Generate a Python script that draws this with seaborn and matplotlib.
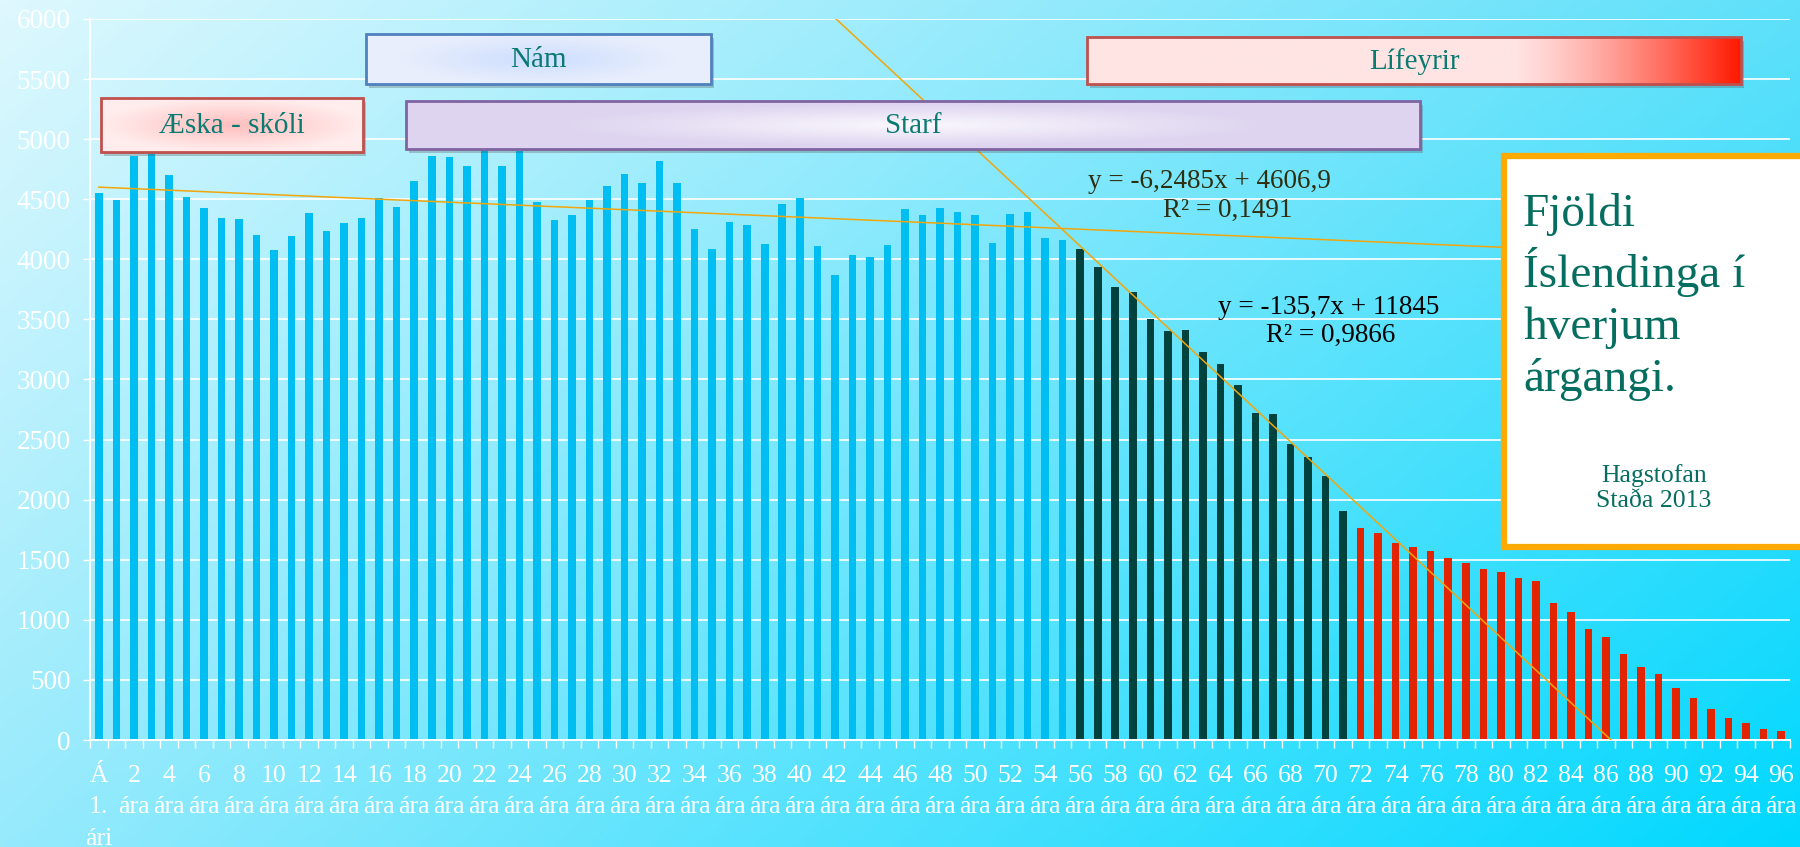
import numpy as np
import pandas as pd
import seaborn as sns
import matplotlib.pyplot as plt
from matplotlib.patches import Rectangle

# Fjöldi Íslendinga eftir aldri (Hagstofan, staða 2013)
ages = list(range(97))
counts = [4550, 4495, 4863, 4885, 4704, 4520, 4430, 4346, 4332, 4206, 4076, 4191, 4386, 4234, 4303, 4346,
          4513, 4433, 4654, 4863, 4849, 4780, 4914, 4780, 4899, 4480, 4325, 4372, 4495, 4614, 4711, 4632,
          4820, 4632, 4256, 4090, 4314, 4285, 4130, 4459, 4509, 4108, 3870, 4036, 4021, 4123, 4422, 4372,
          4430, 4397, 4368, 4133, 4379, 4397, 4177, 4159, 4090, 3935, 3768, 3725, 3505, 3404, 3411, 3230,
          3132, 2955, 2724, 2710, 2460, 2356, 2200, 1904, 1767, 1723, 1637, 1608, 1572, 1517, 1474, 1427,
          1398, 1344, 1325, 1142, 1064, 925, 859, 719, 606, 552, 435, 346, 260, 179, 144, 93, 74]
first_dark_age = 56
first_red_age = 72

# trendlines (Excel, x = 1-based category index)
trend_all = (-6.2485, 4606.9)
trend_old = (-135.7, 11845)
trend_all_eq, trend_all_r2 = "y = -6,2485x + 4606,9", "R² = 0,1491"
trend_old_eq, trend_old_r2 = "y = -135,7x + 11845", "R² = 0,9866"

yticks = list(range(0, 6001, 500))
xtick_ages = list(range(0, 97, 2))
xtick_labels = ["Á\n1.\nári"] + [f"{a}\nára" for a in xtick_ages[1:]]

phases = ["Æska - skóli", "Nám", "Starf", "Lífeyrir"]
title_text = "Fjöldi\nÍslendinga í\nhverjum\nárgangi."
source_text = "Hagstofan\nStaða 2013"

groups = ["blue" if a < first_dark_age else ("dark" if a < first_red_age else "red") for a in ages]
df = pd.DataFrame({"age": ages, "count": counts, "group": groups})
palette = {"blue": "#00BEF1", "dark": "#00433E", "red": "#E32400"}

plt.rcParams['font.family'] = ['Liberation Serif', 'DejaVu Serif']

W, H = 1800, 847
fig = plt.figure(figsize=(W / 100, H / 100), dpi=100)

# background gradient (light cyan top-left -> bright cyan bottom-right)
bg = fig.add_axes([0, 0, 1, 1], zorder=0)
gx = np.linspace(0, 1, 360)[None, :]
gy = np.linspace(0, 1, 170)[:, None]
tl = np.array([222, 248, 254]) / 255
tr = np.array([95, 224, 250]) / 255
bl = np.array([150, 234, 252]) / 255
br = np.array([0, 216, 255]) / 255
grad = ((1 - gx) * (1 - gy))[..., None] * tl + (gx * (1 - gy))[..., None] * tr \
    + ((1 - gx) * gy)[..., None] * bl + (gx * gy)[..., None] * br
bg.imshow(grad, extent=[0, 1, 0, 1], aspect='auto', origin='upper')
bg.axis('off')

# main chart
ax = fig.add_axes([90 / W, 107 / H, 1700 / W, 721 / H], zorder=1)
ax.patch.set_alpha(0)
sns.barplot(data=df, x="age", y="count", hue="group", palette=palette, dodge=False,
            width=0.43, saturation=1, legend=False, ax=ax, zorder=2)

xs1 = np.linspace(0, 96, 50)
ax.plot(xs1, trend_all[0] * (xs1 + 1) + trend_all[1], color="#F2A60C", lw=1.1, zorder=3)
x_start = (6000 - trend_old[1]) / trend_old[0] - 1
x_end = -trend_old[1] / trend_old[0] - 1
xs2 = np.linspace(x_start, x_end, 50)
ax.plot(xs2, trend_old[0] * (xs2 + 1) + trend_old[1], color="#F2A60C", lw=1.1, zorder=3)

ax.set_ylim(0, 6000)
ax.set_xlim(-0.5, 96.5)
ax.set_yticks(yticks)
ax.set_yticklabels([str(v) for v in yticks], fontsize=19.5, color='white')
ax.set_xticks(xtick_ages)
ax.set_xticklabels(xtick_labels, linespacing=1.55, va='top', fontsize=18.5, color='white')
ax.set_xticks(np.arange(-0.5, 97, 1), minor=True)
ax.yaxis.grid(True, color='white', lw=1.4, alpha=0.85)
ax.set_axisbelow(True)
ax.tick_params(axis='x', which='major', length=0, pad=18)
ax.tick_params(axis='x', which='minor', length=6, width=1, color='white')
ax.tick_params(axis='y', length=5, width=1, color='white', pad=9)
for s in ['top', 'right']:
    ax.spines[s].set_visible(False)
for s in ['left', 'bottom']:
    ax.spines[s].set_color('white')
    ax.spines[s].set_linewidth(1.4)
ax.set_xlabel('')
ax.set_ylabel('')

# overlay in pixel coordinates for the phase boxes and texts
ov = fig.add_axes([0, 0, 1, 1], zorder=3)
ov.set_xlim(0, W)
ov.set_ylim(H, 0)
ov.axis('off')
ov.patch.set_alpha(0)

teal = "#0B7B72"


def ellipse_fill(c_mid, c_edge, n=(40, 200), sx=1.0, sy=1.0):
    yy, xx = np.mgrid[-1:1:n[0] * 1j, -1:1:n[1] * 1j]
    d = np.clip(np.sqrt((xx / sx) ** 2 + (yy / sy) ** 2), 0, 1)[..., None]
    return (1 - d) * np.array(c_mid) / 255 + d * np.array(c_edge) / 255


def phase_box(x0, y0, x1, y1, img, edge, label):
    ov.add_patch(Rectangle((x0 + 3, y0 + 4), x1 - x0, y1 - y0, color='#505050', alpha=0.3, lw=0))
    ov.imshow(img, extent=[x0, x1, y1, y0], aspect='auto', origin='upper', zorder=2)
    ov.add_patch(Rectangle((x0, y0), x1 - x0, y1 - y0, fill=False, ec=edge, lw=2, zorder=3))
    ov.text((x0 + x1) / 2, (y0 + y1) / 2 + 1, label, ha='center', va='center',
            fontsize=21, color=teal, zorder=4)


phase_box(101, 98, 363, 152, ellipse_fill((255, 190, 190), (255, 236, 236)), "#C0504D", phases[0])
phase_box(366, 34, 711, 84, ellipse_fill((205, 222, 255), (232, 238, 252), sx=0.8), "#4F81BD", phases[1])
phase_box(406, 101, 1420, 149, ellipse_fill((250, 248, 253), (222, 212, 240), sx=0.7, sy=0.9),
          "#8064A2", phases[2])
lx = np.linspace(0, 1, 300)
ramp = np.clip((lx - 0.65) / 0.35, 0, 1) ** 1.3
left_c = np.array([255, 228, 228]) / 255
right_c = np.array([255, 25, 0]) / 255
life = ((1 - ramp)[:, None] * left_c + ramp[:, None] * right_c)[None, :, :].repeat(10, axis=0)
phase_box(1087, 37, 1741, 84, life, "#C0504D", phases[3])

# trendline equations
eq_style = dict(ha='center', va='center', fontsize=19.5)
ov.text(1209, 181, trend_all_eq, color="#2E2E10", **eq_style)
ov.text(1228, 210, trend_all_r2, color="#2E2E10", **eq_style)
ov.text(1329, 308, trend_old_eq, color="black", **eq_style)
ov.text(1331, 335, trend_old_r2, color="black", **eq_style)

# info box
ov.add_patch(Rectangle((1504, 156), 320, 391, fc='white', ec='#FFAA00', lw=4.5, zorder=5))
ov.text(1523, 193, title_text, ha='left', va='top', fontsize=34, color="#066E60",
        linespacing=1.28, zorder=6)
ov.text(1654, 488, source_text, ha='center', va='center', fontsize=18.5, color="#066E60",
        linespacing=1.2, zorder=6)

fig.savefig("out.png", dpi=100)
